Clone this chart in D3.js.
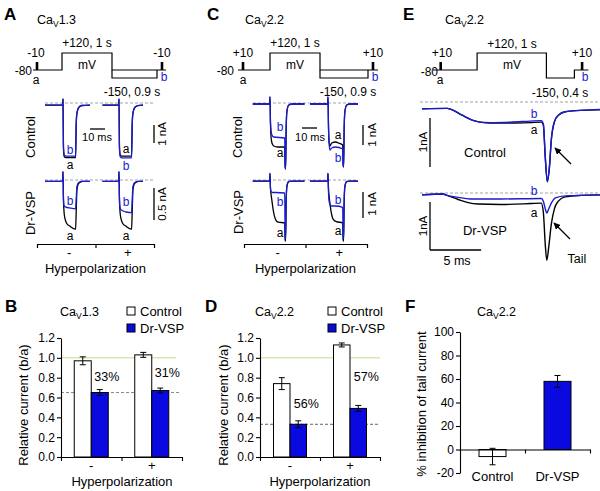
<!DOCTYPE html>
<html><head><meta charset="utf-8">
<script src="https://cdn.jsdelivr.net/npm/d3@7"></script>
<style>body{margin:0;background:#fff}svg{display:block}text{font-family:"Liberation Sans",Arial,Helvetica,sans-serif}</style>
</head><body><svg id="c" width="600" height="491"></svg>
<script>
// ================= DATA =================
// Voltage protocols: [time (s), level]
const protoLevels = ["-150", "-80", "test", "+120"];
const protoA_main = [[0,"-80"],[0.58,"-80"],[0.58,"+120"],[1.58,"+120"],[1.58,"-80"],[2.66,"-80"]];
const protoA_hyp  = [[1.58,"-80"],[1.58,"-150"],[2.48,"-150"],[2.48,"-80"]];
const protoA_test = [0.08, 2.58];
const protoC_main = [[0,"-80"],[0.64,"-80"],[0.64,"+120"],[1.64,"+120"],[1.64,"-80"],[2.8,"-80"]];
const protoC_hyp  = [[1.64,"-80"],[1.64,"-150"],[2.6,"-150"],[2.6,"-80"]];
const protoC_test = [0.1, 2.7];
const protoE_main = [[0,"-80"],[0.63,"-80"],[0.63,"+120"],[1.62,"+120"],[1.62,"-150"],[2.02,"-150"],[2.02,"-80"],[2.22,"-80"]];
const protoE_test = [0.11, 2.13];

// Current traces: [time (ms), current (nA)]
const A_ctrl_minus_a = [[0,-0.12],[11.7,-0.12],[12,0.22],[12.3,-2.5],[12.8,-2.97],[14,-3.03],[20.4,-3.03],[20.8,-1.2],[21.3,-0.55],[22.5,-0.25],[24.5,-0.14],[30,-0.12]];
const A_ctrl_minus_b = [[0,-0.12],[11.7,-0.12],[12,0.22],[12.3,-2.4],[12.8,-2.88],[14,-2.95],[20.4,-2.95],[20.8,-1.2],[21.3,-0.55],[22.5,-0.25],[24.5,-0.14],[30,-0.12]];
const A_ctrl_plus_a  = [[1,-0.12],[11.7,-0.12],[12,0.22],[12.3,-2.4],[12.8,-2.88],[14,-2.95],[20.4,-2.95],[20.8,-1.2],[21.3,-0.55],[22.5,-0.25],[24.5,-0.14],[28,-0.12]];
const A_ctrl_plus_b  = [[1,-0.12],[11.7,-0.12],[12,0.22],[12.3,-2.5],[12.8,-2.98],[14,-3.05],[20.4,-3.05],[20.8,-1.2],[21.3,-0.55],[22.5,-0.25],[24.5,-0.14],[28,-0.12]];
const A_vsp_minus_a  = [[0,-0.02],[11.7,-0.02],[12,0.13],[12.3,-0.3],[12.7,-0.5],[13.3,-0.6],[14.5,-0.68],[16.5,-0.72],[20.4,-0.77],[20.8,-0.5],[21.3,-0.15],[22.5,-0.05],[25,-0.02],[30,-0.02]];
const A_vsp_minus_b  = [[0,-0.02],[11.7,-0.02],[12,0.13],[12.3,-0.3],[12.7,-0.4],[13.5,-0.42],[17,-0.44],[20.4,-0.45],[20.8,-0.3],[21.3,-0.1],[22.5,-0.04],[25,-0.02],[30,-0.02]];
const A_vsp_plus_a   = [[1,-0.02],[11.7,-0.02],[12,0.13],[12.3,-0.3],[12.7,-0.5],[13.3,-0.6],[14.5,-0.68],[16.5,-0.72],[20.4,-0.77],[20.8,-0.5],[21.3,-0.15],[22.5,-0.05],[25,-0.02],[28,-0.02]];
const A_vsp_plus_b   = [[1,-0.02],[11.7,-0.02],[12,0.13],[12.3,-0.3],[12.7,-0.43],[13.5,-0.47],[17,-0.5],[20.4,-0.51],[20.8,-0.32],[21.3,-0.1],[22.5,-0.04],[25,-0.02],[28,-0.02]];

const C_ctrl_minus_a = [[0.5,-0.05],[11.7,-0.05],[12,0.3],[12.3,-1.0],[12.7,-1.7],[13.3,-2.0],[14.5,-2.15],[17,-2.2],[21.8,-2.2],[22.1,-3.2],[22.4,-3.3],[22.8,-1.2],[23.3,-0.4],[24.5,-0.1],[27,-0.05],[35,-0.05]];
const C_ctrl_minus_b = [[0.5,-0.05],[11.7,-0.05],[12,0.3],[12.3,-0.9],[12.7,-1.4],[13.3,-1.6],[14.5,-1.7],[21.8,-1.75],[22.1,-3.2],[22.4,-3.3],[22.8,-1.2],[23.3,-0.4],[24.5,-0.1],[27,-0.05],[35,-0.05]];
const C_ctrl_plus_a  = [[0,-0.05],[11.7,-0.05],[12,0.3],[12.3,-1.0],[12.7,-1.9],[13.3,-2.15],[14.5,-2.0],[17,-1.95],[19,-2.0],[21.8,-2.1],[22.1,-3.1],[22.4,-3.2],[22.8,-1.2],[23.3,-0.4],[24.5,-0.1],[27,-0.05],[32,-0.05]];
const C_ctrl_plus_b  = [[0,-0.05],[11.7,-0.05],[12,0.3],[12.3,-1.1],[12.7,-2.0],[13.3,-2.35],[14.5,-2.25],[17,-2.2],[21.8,-2.3],[22.1,-3.1],[22.4,-3.2],[22.8,-1.2],[23.3,-0.4],[24.5,-0.1],[27,-0.05],[32,-0.05]];
const C_vsp_minus_a  = [[0.5,-0.04],[11.7,-0.04],[12,0.25],[12.3,-0.3],[12.7,-0.55],[13.3,-0.8],[14,-1.1],[15,-1.4],[16,-1.55],[17.5,-1.62],[21.8,-1.65],[22.1,-2.3],[22.4,-2.35],[22.8,-0.8],[23.3,-0.25],[24.5,-0.06],[27,-0.04],[35,-0.04]];
const C_vsp_minus_b  = [[0.5,-0.04],[11.7,-0.04],[12,0.25],[12.3,-0.3],[12.7,-0.45],[13.5,-0.48],[16,-0.48],[21.8,-0.5],[22.1,-2.2],[22.4,-2.25],[22.8,-0.7],[23.3,-0.2],[24.5,-0.05],[27,-0.04],[35,-0.04]];
const C_vsp_plus_a   = [[0,-0.04],[11.7,-0.04],[12,0.25],[12.3,-0.3],[12.7,-0.6],[13.3,-0.9],[14,-1.2],[15,-1.45],[16,-1.55],[17.5,-1.6],[21.8,-1.65],[22.1,-2.3],[22.4,-2.35],[22.8,-0.8],[23.3,-0.25],[24.5,-0.06],[27,-0.04],[32,-0.04]];
const C_vsp_plus_b   = [[0,-0.04],[11.7,-0.04],[12,0.25],[12.3,-0.4],[12.7,-0.8],[13.3,-0.95],[14.5,-1.0],[17,-1.0],[21.8,-1.05],[22.1,-2.2],[22.4,-2.25],[22.8,-0.7],[23.3,-0.2],[24.5,-0.05],[27,-0.04],[32,-0.04]];

const E_ctrl_a = [[0.2,-0.14],[2.65,-0.13],[3.04,-0.15],[4.12,-0.27],[5.1,-0.37],[5.88,-0.41],[6.86,-0.43],[8.82,-0.43],[10.78,-0.42],[11.86,-0.41],[12.06,-0.47],[12.25,-1.14],[12.45,-1.63],[12.65,-1.35],[12.84,-0.78],[13.14,-0.41],[13.53,-0.27],[14.2,-0.2],[15.7,-0.17],[17.6,-0.16]];
const E_ctrl_b = [[0.2,-0.14],[2.65,-0.13],[3.04,-0.15],[4.12,-0.27],[5.1,-0.37],[5.88,-0.41],[6.86,-0.42],[8.82,-0.41],[10.78,-0.39],[11.86,-0.38],[12.06,-0.45],[12.25,-1.12],[12.45,-1.62],[12.65,-1.33],[12.84,-0.76],[13.14,-0.4],[13.53,-0.27],[14.2,-0.2],[15.7,-0.17],[17.6,-0.15]];
const E_vsp_a  = [[0.2,-0.04],[2.25,-0.02],[2.65,-0.05],[3.73,-0.135],[4.7,-0.2],[5.69,-0.23],[7.84,-0.24],[10.78,-0.22],[11.86,-0.21],[12.06,-0.4],[12.25,-1.08],[12.4,-1.4],[12.6,-1.1],[12.84,-0.65],[13.14,-0.33],[13.53,-0.17],[14.2,-0.08],[15.7,-0.05],[17.6,-0.04]];
const E_vsp_b  = [[0.2,-0.04],[2.25,-0.02],[2.65,-0.05],[3.73,-0.09],[4.9,-0.125],[7.84,-0.125],[11.86,-0.115],[12.06,-0.17],[12.25,-0.33],[12.4,-0.42],[12.55,-0.35],[12.84,-0.21],[13.24,-0.1],[14.2,-0.06],[17.6,-0.04]];

// Bar charts
const hypCats = ["-", "+"];
const B_control = [0.97, 1.03], B_controlErr = [0.04, 0.025];
const B_drvsp = [0.65, 0.67],   B_drvspErr = [0.03, 0.025];
const B_pct = ["33%", "31%"];
const D_control = [0.74, 1.13], D_controlErr = [0.06, 0.02];
const D_drvsp = [0.33, 0.49],   D_drvspErr = [0.035, 0.03];
const D_pct = ["56%", "57%"];
const relTicks = [0, 0.2, 0.4, 0.6, 0.8, 1.0, 1.2];
const F_cats = ["Control", "Dr-VSP"];
const F_values = [-6, 58], F_err = [7, 5];
const F_ticks = [-20, 0, 20, 40, 60, 80, 100];
const legendLabels = ["Control", "Dr-VSP"];

// ================= DRAWING =================
const BLU = "#1a1ad2", BARBLU = "#0a0ae0";
const svg = d3.select("#c");

function txt(x, y, s, o = {}) {
  const t = svg.append("text").attr("x", x).attr("y", y).text(s)
    .attr("font-size", o.size || 12).attr("text-anchor", o.anchor || "middle")
    .attr("fill", o.color || "#000");
  if (o.bold) t.attr("font-weight", "bold");
  if (o.rot) t.attr("transform", `rotate(-90,${x},${y})`);
  return t;
}
function caTitle(x, y, rest) {
  const t = svg.append("text").attr("x", x).attr("y", y).attr("font-size", 12.5);
  t.append("tspan").text("Ca");
  t.append("tspan").text("V").attr("font-size", 8.5).attr("dy", 3);
  t.append("tspan").text(rest).attr("dy", -3);
}
function line(x1, y1, x2, y2, o = {}) {
  return svg.append("line").attr("x1", x1).attr("y1", y1).attr("x2", x2).attr("y2", y2)
    .attr("stroke", o.color || "#000").attr("stroke-width", o.w || 1)
    .attr("stroke-dasharray", o.dash || null);
}

// ---- protocols ----
function drawProtocol(x0, pxPerS, main, hyp, tests) {
  const x = d3.scaleLinear().domain([0, 1]).range([x0, x0 + pxPerS]);
  const y = d3.scaleOrdinal().domain(protoLevels).range([78, 70, 62, 53]);
  const gen = d3.line().x(d => x(d[0])).y(d => y(d[1]));
  svg.append("path").attr("d", gen(main)).attr("fill", "none").attr("stroke", "#000").attr("stroke-width", 1.2);
  if (hyp) svg.append("path").attr("d", gen(hyp)).attr("fill", "none").attr("stroke", "#000").attr("stroke-width", 1.2);
  tests.forEach(t => line(x(t), y("-80"), x(t), y("test"), { w: 2.6 }));
}
drawProtocol(33, 50, protoA_main, protoA_hyp, protoA_test);
drawProtocol(238, 50, protoC_main, protoC_hyp, protoC_test);
drawProtocol(433, 70, protoE_main, null, protoE_test);

// panel letters & titles
txt(4, 20, "A", { size: 17, bold: true, anchor: "start" });
txt(207, 20, "C", { size: 17, bold: true, anchor: "start" });
txt(403, 20, "E", { size: 17, bold: true, anchor: "start" });
caTitle(37, 24, "1.3"); caTitle(245, 24, "2.2"); caTitle(445, 24, "2.2");

// protocol labels A
txt(36, 57, "-10"); txt(162, 57, "-10"); txt(32, 75, "-80", { anchor: "end" });
txt(36, 84, "a"); txt(164, 81, "b", { color: BLU });
txt(87, 47, "+120, 1 s"); txt(87, 69, "mV"); txt(132, 96, "-150, 0.9 s");
// protocol labels C
txt(243, 57, "+10"); txt(373, 57, "+10"); txt(234, 75, "-80", { anchor: "end" });
txt(243, 84, "a"); txt(375, 81, "b", { color: BLU });
txt(348, 96, "-150, 0.9 s");
txt(295, 47, "+120, 1 s"); txt(295, 69, "mV");
// protocol labels E
txt(442, 57, "+10"); txt(582, 57, "+10"); txt(438, 76, "-80", { anchor: "end" });
txt(440, 84, "a"); txt(585, 81, "b", { color: BLU });
txt(512, 48, "+120, 1 s"); txt(512, 69, "mV"); txt(560, 97, "-150, 0.4 s");

// ---- traces ----
function drawTraces(x, y, black, blue, sw) {
  const gen = d3.line().x(d => x(d[0])).y(d => y(d[1])).curve(d3.curveMonotoneX);
  svg.append("path").attr("d", gen(black)).attr("fill", "none").attr("stroke", "#000").attr("stroke-width", sw || 1.3);
  svg.append("path").attr("d", gen(blue)).attr("fill", "none").attr("stroke", BLU).attr("stroke-width", sw || 1.3);
}
function sweepX(x0) { return d3.scaleLinear().domain([0, 32]).range([x0, x0 + 48]); }

// Panel A traces
const xA1 = sweepX(45), xA2 = sweepX(101);
const yActrl = d3.scaleLinear().domain([0, -1]).range([103, 121]);
const yAvsp = d3.scaleLinear().domain([0, -1]).range([180, 244]);
line(45, yActrl(0), 153, yActrl(0), { color: "#999", w: 0.9, dash: "3,2" });
line(45, yAvsp(0), 153, yAvsp(0), { color: "#999", w: 0.9, dash: "3,2" });
drawTraces(xA1, yActrl, A_ctrl_minus_a, A_ctrl_minus_b);
drawTraces(xA2, yActrl, A_ctrl_plus_a, A_ctrl_plus_b);
drawTraces(xA1, yAvsp, A_vsp_minus_a, A_vsp_minus_b);
drawTraces(xA2, yAvsp, A_vsp_plus_a, A_vsp_plus_b);
txt(70, 154, "b", { color: BLU }); txt(70, 169, "a");
txt(126, 153, "a"); txt(126, 170, "b", { color: BLU });
txt(70, 205, "b", { color: BLU }); txt(70, 240, "a");
txt(126, 206, "b", { color: BLU }); txt(126, 240, "a");
// scale bars A
line(90, 129, 90 + xA1(10) - xA1(0), 129, { w: 1.3 });
txt(97, 141, "10 ms", { size: 11 });
line(154, 125, 154, 125 + yActrl(-1) - yActrl(0), { w: 1.3 });
txt(166, 134, "1 nA", { size: 11.5, rot: true });
line(154, 188, 154, 188 + yAvsp(-0.5) - yAvsp(0), { w: 1.3 });
txt(166, 204, "0.5 nA", { size: 11.5, rot: true });
txt(35, 137, "Control", { size: 13, rot: true });
txt(35, 213, "Dr-VSP", { size: 13, rot: true });

// Panel C traces
const xC1 = sweepX(252), xC2 = sweepX(310);
const yCctrl = d3.scaleLinear().domain([0, -1]).range([103, 123]);
const yCvsp = d3.scaleLinear().domain([0, -1]).range([180, 206]);
line(253, yCctrl(0), 358, yCctrl(0), { color: "#999", w: 0.9, dash: "3,2" });
line(253, yCvsp(0), 358, yCvsp(0), { color: "#999", w: 0.9, dash: "3,2" });
drawTraces(xC1, yCctrl, C_ctrl_minus_a, C_ctrl_minus_b);
drawTraces(xC2, yCctrl, C_ctrl_plus_a, C_ctrl_plus_b);
drawTraces(xC1, yCvsp, C_vsp_minus_a, C_vsp_minus_b);
drawTraces(xC2, yCvsp, C_vsp_plus_a, C_vsp_plus_b);
txt(280, 131, "b", { color: BLU }); txt(280, 157, "a");
txt(338, 139, "a"); txt(338, 162, "b", { color: BLU });
txt(280, 206, "b", { color: BLU }); txt(280, 237, "a");
txt(338, 204, "b", { color: BLU }); txt(338, 235, "a");
line(302, 128, 302 + xC1(10) - xC1(0), 128, { w: 1.3 });
txt(310, 141, "10 ms", { size: 11 });
line(363, 125, 363, 125 + yCctrl(-1) - yCctrl(0), { w: 1.3 });
txt(376, 135, "1 nA", { size: 11.5, rot: true });
line(363, 192, 363, 192 + yCvsp(-1) - yCvsp(0), { w: 1.3 });
txt(376, 204, "1 nA", { size: 11.5, rot: true });
txt(242, 137, "Control", { size: 13, rot: true });
txt(243, 212, "Dr-VSP", { size: 13, rot: true });

// hyperpolarization brackets for A and C
function bracket(x1, x2, yb, lblY, txtY) {
  const xl = d3.scaleLinear().domain([0, 2]).range([x1, x2]);
  const band = d3.scaleBand().domain(hypCats).range([x1, x2]);
  svg.append("g").attr("transform", `translate(0,${yb})`)
    .call(d3.axisBottom(xl).tickValues([0, 1, 2]).tickFormat("").tickSize(4).tickSizeOuter(0))
    .call(g => g.selectAll("path,line").attr("stroke", "#000").attr("stroke-width", 1.2));
  hypCats.forEach(c => txt(band(c) + band.bandwidth() / 2 + 3, lblY, c, { size: 13 }));
  txt((x1 + x2) / 2, txtY, "Hyperpolarization", { size: 13 });
}
bracket(37, 154, 244, 257, 273);
bracket(244, 367, 244, 257, 273);

// Panel E traces
const xE = d3.scaleLinear().domain([0, 17.6]).range([420, 600]);
const yEctrl = d3.scaleLinear().domain([0, -1]).range([102, 151]);
const yEvsp = d3.scaleLinear().domain([0, -1]).range([193, 241]);
line(420, yEctrl(0), 600, yEctrl(0), { color: "#999", w: 0.9, dash: "3,2" });
line(420, yEvsp(0), 600, yEvsp(0), { color: "#999", w: 0.9, dash: "3,2" });
drawTraces(xE, yEctrl, E_ctrl_a, E_ctrl_b, 1.4);
drawTraces(xE, yEvsp, E_vsp_a, E_vsp_b, 1.4);
txt(534, 118, "b", { color: BLU }); txt(534, 134, "a");
txt(534, 195, "b", { color: BLU }); txt(534, 217, "a");
line(430, 118, 430, 118 + yEctrl(-1) - yEctrl(0), { w: 1.3 });
txt(427, 142, "1nA", { size: 11.5, rot: true });
line(430, 202, 430, 202 + yEvsp(-1) - yEvsp(0), { w: 1.3 });
line(430, 250, 430 + xE(5) - xE(0), 250, { w: 1.3 });
txt(427, 226, "1nA", { size: 11.5, rot: true });
txt(457, 265, "5 ms", { size: 12.5 });
txt(485, 157, "Control", { size: 13 });
txt(485, 235, "Dr-VSP", { size: 13 });
svg.append("defs").append("marker").attr("id", "arr").attr("viewBox", "0 0 10 10")
  .attr("refX", 9).attr("refY", 5).attr("markerWidth", 7).attr("markerHeight", 7)
  .attr("markerUnits", "userSpaceOnUse").attr("orient", "auto")
  .append("path").attr("d", "M0,0 L10,5 L0,10 z").attr("fill", "#000");
line(571, 164, 555, 148, { w: 1.3 }).attr("marker-end", "url(#arr)");
line(570, 239, 554, 223, { w: 1.3 }).attr("marker-end", "url(#arr)");
txt(577, 263, "Tail", { size: 12.5 });

// ---- bar panels ----
function barPanel(o) {
  const y = d3.scaleLinear().domain(o.yDomain).range(o.yRange);
  const xb = d3.scaleBand().domain(o.cats).range(o.xRange);
  const xl = d3.scaleLinear().domain([0, o.cats.length]).range(o.xRange);
  const g = svg.append("g");
  (o.refs || []).forEach(r => g.append("line").attr("x1", o.xRange[0]).attr("x2", r.end)
    .attr("y1", y(r.v)).attr("y2", y(r.v)).attr("stroke", r.color).attr("stroke-width", r.w)
    .attr("stroke-dasharray", r.dash || null));
  const centers = [];
  o.series.forEach((s, si) => {
    centers[si] = [];
    s.values.forEach((v, i) => {
      const cx = xb(o.cats[i]) + xb.bandwidth() / 2 + (si - (o.series.length - 1) / 2) * o.barW;
      centers[si][i] = cx;
      g.append("rect").attr("x", cx - o.barW / 2).attr("width", o.barW)
        .attr("y", Math.min(y(v), y(0))).attr("height", Math.abs(y(v) - y(0)))
        .attr("fill", typeof s.fill === "function" ? s.fill(i) : s.fill)
        .attr("stroke", "#000").attr("stroke-width", 1);
      const e = s.err[i];
      g.append("line").attr("x1", cx).attr("x2", cx).attr("y1", y(v - e)).attr("y2", y(v + e)).attr("stroke", "#000").attr("stroke-width", 1);
      [v - e, v + e].forEach(ev => g.append("line").attr("x1", cx - 3).attr("x2", cx + 3)
        .attr("y1", y(ev)).attr("y2", y(ev)).attr("stroke", "#000").attr("stroke-width", 1));
    });
  });
  g.append("g").attr("transform", `translate(${o.xRange[0]},0)`)
    .call(d3.axisLeft(y).tickValues(o.ticks).tickFormat(o.fmt).tickSize(4).tickSizeOuter(0).tickPadding(2))
    .call(a => a.selectAll("text").attr("font-size", 12).attr("font-family", '"Liberation Sans",Arial,sans-serif'))
    .call(a => a.selectAll("path,line").attr("stroke", "#000").attr("stroke-width", 1.1));
  g.append("g").attr("transform", `translate(0,${y(0)})`)
    .call(d3.axisBottom(xl).tickValues(d3.range(o.cats.length + 1)).tickFormat("").tickSize(4).tickSizeOuter(0))
    .call(a => a.selectAll("path,line").attr("stroke", "#000").attr("stroke-width", 1.1));
  o.cats.forEach(c => txt(xb(c) + xb.bandwidth() / 2, o.catY, c, { size: 13 }));
  return { y, xb, centers };
}

// Panel B
const pB = barPanel({
  yDomain: [0, 1.2], yRange: [457, 338], xRange: [61, 182], cats: hypCats, barW: 17,
  ticks: relTicks, fmt: d3.format(".1f"), catY: 470,
  refs: [{ v: 1.0, color: "#b8e08c", w: 1, end: 176 }, { v: B_drvsp[0], color: "#888", w: 1, dash: "3,2", end: 180 }],
  series: [{ values: B_control, err: B_controlErr, fill: "#fff" }, { values: B_drvsp, err: B_drvspErr, fill: BARBLU }]
});
B_pct.forEach((p, i) => txt(pB.centers[1][i] + 7, (pB.y(B_control[i]) + pB.y(B_drvsp[i])) / 2 + 4.5, p, { size: 12.5 }));
txt(122, 486, "Hyperpolarization", { size: 13 });
txt(28, 405, "Relative current (b/a)", { size: 13, rot: true });
txt(5, 312, "B", { size: 17, bold: true, anchor: "start" });
caTitle(60, 316, "1.3");

// Panel D
const pD = barPanel({
  yDomain: [0, 1.2], yRange: [457, 338], xRange: [260, 380], cats: hypCats, barW: 16.5,
  ticks: relTicks, fmt: d3.format(".1f"), catY: 470,
  refs: [{ v: 1.0, color: "#b8e08c", w: 1, end: 380 }, { v: D_drvsp[0], color: "#666", w: 1, dash: "3,2", end: 380 }],
  series: [{ values: D_control, err: D_controlErr, fill: "#fff" }, { values: D_drvsp, err: D_drvspErr, fill: BARBLU }]
});
D_pct.forEach((p, i) => txt(pD.centers[1][i] + 8, (pD.y(D_control[i]) + pD.y(D_drvsp[i])) / 2 + 4.5, p, { size: 12.5 }));
txt(320, 486, "Hyperpolarization", { size: 13 });
txt(228, 405, "Relative current (b/a)", { size: 13, rot: true });
txt(205, 312, "D", { size: 17, bold: true, anchor: "start" });
caTitle(255, 316, "2.2");

// legends B, D
[[127, 140], [328, 341]].forEach(([bx, tx]) => {
  legendLabels.forEach((l, i) => {
    const cy = 311 + i * 17;
    svg.append("rect").attr("x", bx).attr("y", cy - 4).attr("width", 8).attr("height", 8)
      .attr("fill", i ? BARBLU : "#fff").attr("stroke", "#000").attr("stroke-width", 1);
    txt(tx, cy + 4.5, l, { size: 13, anchor: "start" });
  });
});

// Panel F
barPanel({
  yDomain: [-20, 100], yRange: [473, 332], xRange: [460, 590], cats: F_cats, barW: 27,
  ticks: F_ticks, fmt: d => String(d), catY: 481,
  series: [{ values: F_values, err: F_err, fill: i => (i ? BARBLU : "#fff") }]
});
txt(426, 404, "% inhibition of tail current", { size: 13, rot: true });
txt(405, 312, "F", { size: 17, bold: true, anchor: "start" });
caTitle(477, 316, "2.2");
</script></body></html>
